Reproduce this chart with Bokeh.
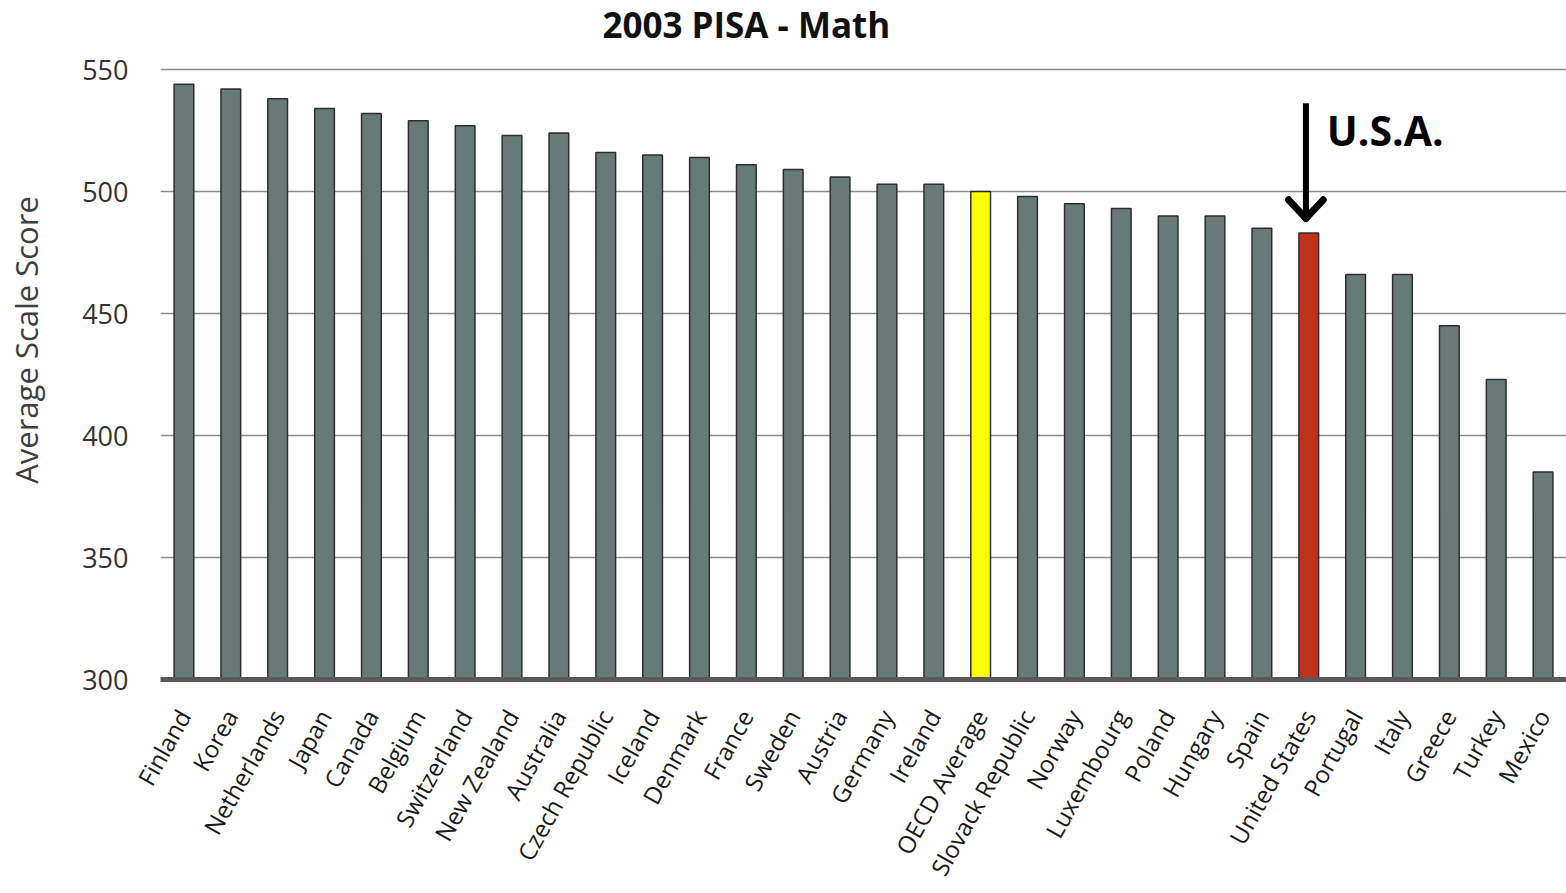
from bokeh.plotting import figure
from bokeh.models import ColumnDataSource, FactorRange, Range1d, FixedTicker
from bokeh.transform import dodge
from bokeh.core.properties import value
from bokeh.embed import file_html
from bokeh.resources import INLINE

countries = ["Finland", "Korea", "Netherlands", "Japan", "Canada", "Belgium",
             "Switzerland", "New Zealand", "Australia", "Czech Republic", "Iceland",
             "Denmark", "France", "Sweden", "Austria", "Germany", "Ireland",
             "OECD Average", "Slovack Republic", "Norway", "Luxembourg", "Poland",
             "Hungary", "Spain", "United States", "Portugal", "Italy", "Greece",
             "Turkey", "Mexico"]
scores = [544, 542, 538, 534, 532, 529, 527, 523, 524, 516, 515, 514, 511, 509,
          506, 503, 503, 500, 498, 495, 493, 490, 490, 485, 483, 466, 466, 445,
          423, 385]
y_ticks = [300, 350, 400, 450, 500, 550]
title_text = "2003 PISA - Math"
highlight = "United States"
average = "OECD Average"

GREY = "#677a77"
colors = []
for c in countries:
    if c == average:
        colors.append("#ffff00")
    elif c == highlight:
        colors.append("#c0321c")
    else:
        colors.append(GREY)

source = ColumnDataSource(dict(country=countries, score=scores, color=colors))

FONT = "Open Sans"

p = figure(x_range=FactorRange(factors=countries), y_range=Range1d(300, 578.3),
           width=1566, height=893, output_backend="svg", toolbar_location=None,
           min_border_left=160, min_border_right=0, min_border_top=0,
           min_border_bottom=214)
p.outline_line_color = None
p.background_fill_color = "white"
p.border_fill_color = "white"

p.vbar(x="country", top="score", bottom=300, width=0.42, source=source,
       fill_color="color", line_color="#2e2e2e", line_width=1.5)

# axes
p.yaxis.ticker = FixedTicker(ticks=y_ticks)
p.yaxis.axis_line_color = None
p.yaxis.major_tick_line_color = None
p.yaxis.minor_tick_line_color = None
p.yaxis.major_label_text_font = FONT
p.yaxis.major_label_text_font_size = "27px"
p.yaxis.major_label_text_color = "#333333"
p.yaxis.major_label_standoff = 26
p.yaxis.axis_label = "Average Scale Score"
p.yaxis.axis_label_text_font = FONT
p.yaxis.axis_label_text_font_size = "31px"
p.yaxis.axis_label_text_font_style = "normal"
p.yaxis.axis_label_text_color = "#404040"
p.yaxis.axis_label_standoff = 32

p.xaxis.axis_line_color = "#595959"
p.xaxis.axis_line_width = 5
p.xaxis.major_tick_line_color = None
p.xaxis.minor_tick_line_color = None
p.xaxis.major_label_orientation = 1.06
p.xaxis.major_label_text_font = FONT
p.xaxis.major_label_text_font_size = "24px"
p.xaxis.major_label_text_color = "#1a1a1a"
p.xaxis.major_label_standoff = 26

p.xgrid.grid_line_color = None
p.ygrid.grid_line_color = "#8c8c8c"
p.ygrid.grid_line_width = 1.5

# title
p.text(x=["France"], y=[568.4], text=[title_text], text_align="center",
       text_baseline="middle", text_font=value(FONT), text_font_style="bold",
       text_font_size="35px", text_color="#111111")

# U.S.A. annotation
p.text(x=[highlight], y=[525.4], text=["U.S.A."], x_offset=18,
       text_align="left", text_baseline="middle", text_font=value(FONT),
       text_font_style="bold", text_font_size="41px", text_color="#000000")

asrc = ColumnDataSource(dict(x=[highlight], ytop=[536.2], ytip=[489.0], yarm=[496.6]))
shaft = dodge("x", -0.06, range=p.x_range)
p.segment(x0=shaft, x1=shaft, y0="ytop", y1="ytip", source=asrc,
          line_color="black", line_width=6, line_cap="butt")
p.segment(x0=dodge("x", -0.43, range=p.x_range), x1=shaft, y0="yarm", y1="ytip",
          source=asrc, line_color="black", line_width=7, line_cap="round")
p.segment(x0=dodge("x", 0.31, range=p.x_range), x1=shaft, y0="yarm", y1="ytip",
          source=asrc, line_color="black", line_width=7, line_cap="round")

open("out.html", "w").write(file_html(p, INLINE))
